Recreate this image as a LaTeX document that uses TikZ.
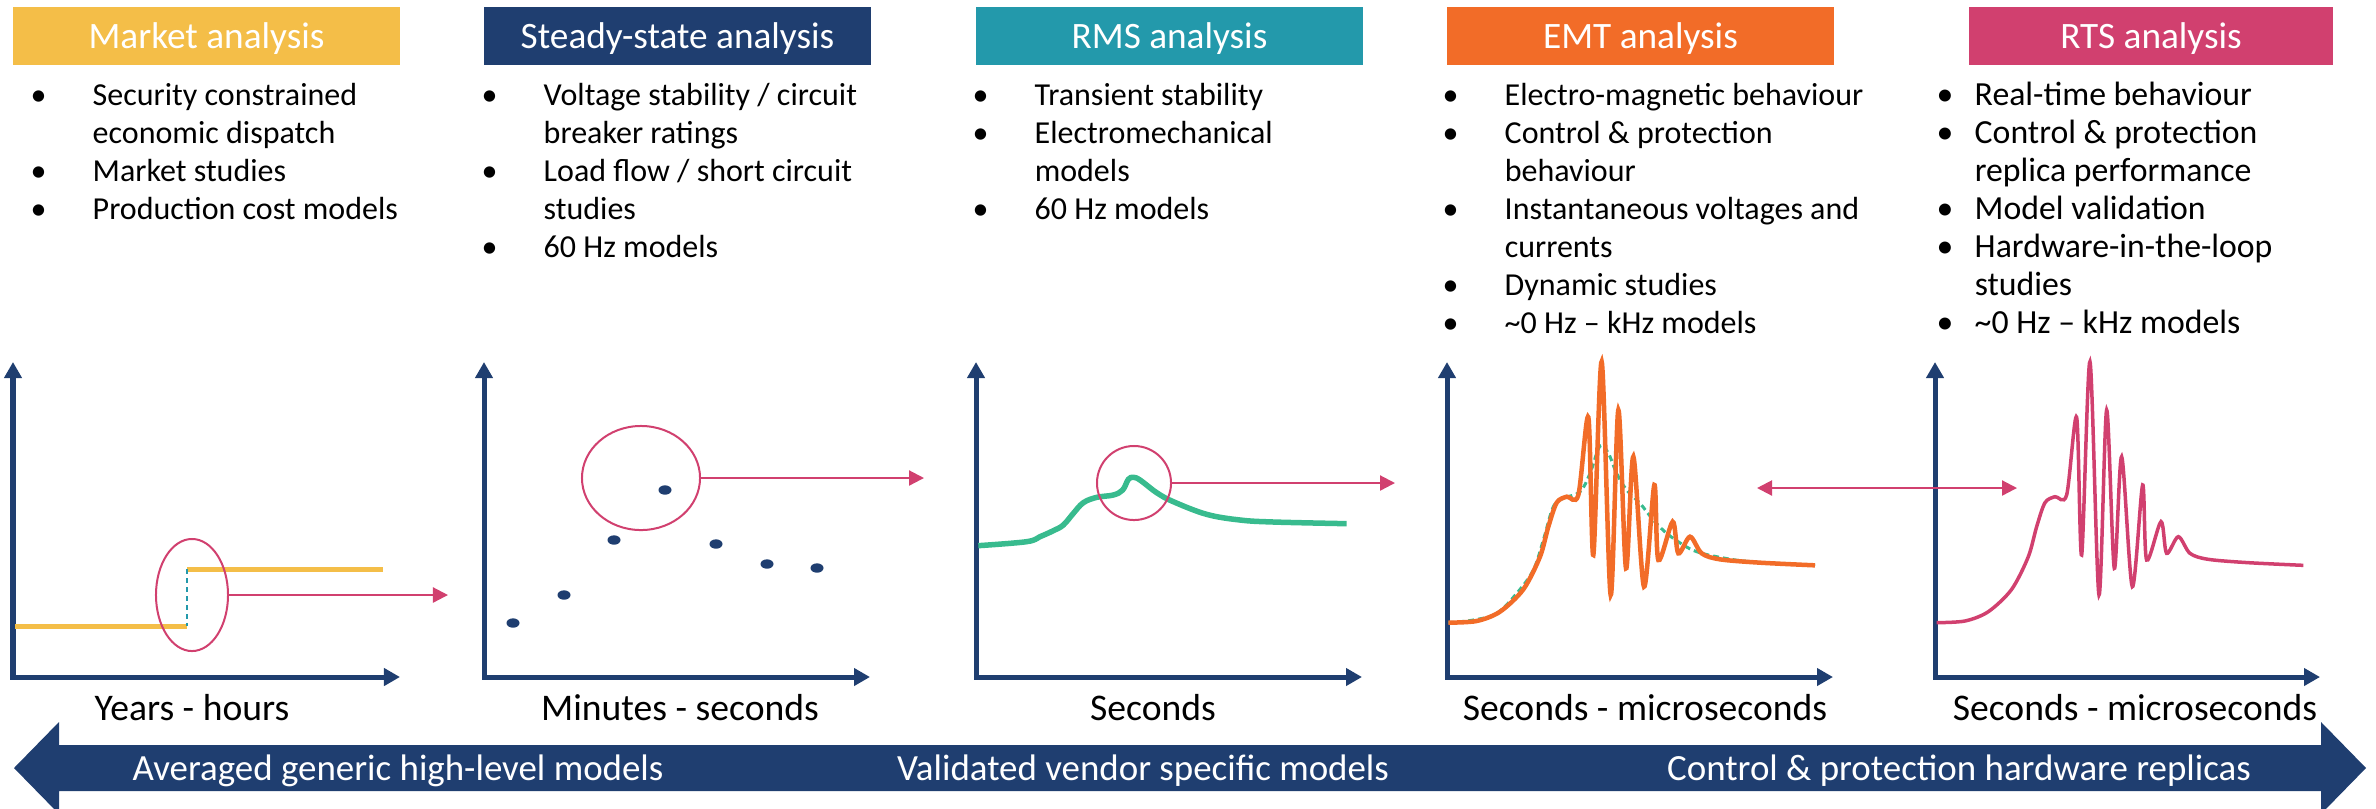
\documentclass[tikz,border=0pt]{standalone}
\usepackage{fontspec}
\setmainfont{Carlito}
\usetikzlibrary{arrows.meta,shapes.geometric}

\definecolor{mktyellow}{HTML}{F4BE48}
\definecolor{navy}{HTML}{1F3E70}
\definecolor{rmsteal}{HTML}{2399AB}
\definecolor{emtorange}{HTML}{F26C28}
\definecolor{rtspink}{HTML}{D1406F}
\definecolor{rmsgreen}{HTML}{38BB8E}

\tikzset{
  header/.style={fill=#1, text=white, minimum width=3.87cm, minimum height=0.58cm,
    inner sep=0pt, text height=0.25cm, text depth=0pt, font=\fontsize{10.6pt}{12pt}\selectfont},
  bullets/.style={anchor=north west, inner sep=0pt, font=\fontsize{9.1pt}{10.8pt}\selectfont},
  timelabel/.style={anchor=base, inner sep=0pt, font=\fontsize{10.7pt}{12pt}\selectfont},
  bandlabel/.style={anchor=base, inner sep=0pt, text=white, font=\fontsize{10.5pt}{12pt}\selectfont},
  axis/.style={draw=navy, line width=0.05cm, line join=miter,
    {Triangle[length=0.16cm,width=0.17cm]}-{Triangle[length=0.16cm,width=0.17cm]}},
  zoomring/.style={ellipse, draw=rtspink, line width=0.02cm, inner sep=0pt},
  zoomarrow/.style={draw=rtspink, line width=0.022cm, -{Triangle[length=0.15cm,width=0.15cm]}},
}
\newcommand{\blist}[2][0.62cm]{\begin{tabular}{@{}p{#1}@{}l@{}}#2\end{tabular}}

\begin{document}
\begin{tikzpicture}[x=0.01cm, y=-0.01cm]
\clip (0,0) rectangle (2376,808);
%\draw[help lines,step=100] (0,0) grid (2376,808);
\def\emtwave#1{\draw[#1] plot[smooth, tension=0.5] coordinates {(145,848) (230,843) (300,815)
  (370,748) (420,650) (445,560) (470,488) (500,470) (535,465) (565,232) (580,645) (605,65)
  (632,765) (655,210) (678,685) (700,350) (732,740) (763,435) (775,660) (818,545) (835,640)
  (870,590) (905,640) (960,658) (1080,668) (1245,676)};}

% headers
\node[header=mktyellow] (mkt) at (206.5,36) {Market analysis};
\node[header=navy] (ss) at (677.5,36) {Steady-state analysis};
\node[header=rmsteal] (rms) at (1169.5,36) {RMS analysis};
\node[header=emtorange] (emt) at (1640.5,36) {EMT analysis};
\node[header=rtspink, minimum width=3.64cm] (rts) at (2151,36) {RTS analysis};

\node[bullets] (mktlist) at (30,78) {\blist{
  \textbullet & Security constrained\\ & economic dispatch\\
  \textbullet & Market studies\\
  \textbullet & Production cost models}};
\node[bullets] (sslist) at (481,78) {\blist{
  \textbullet & Voltage stability / circuit\\ & breaker ratings\\
  \textbullet & Load flow / short circuit\\ & studies\\
  \textbullet & 60 Hz models}};
\node[bullets] (rmslist) at (972,78) {\blist{
  \textbullet & Transient stability\\
  \textbullet & Electromechanical\\ & models\\
  \textbullet & 60 Hz models}};
\node[bullets] (emtlist) at (1442,78) {\blist{
  \textbullet & Electro-magnetic behaviour\\
  \textbullet & Control \& protection\\ & behaviour\\
  \textbullet & Instantaneous voltages and\\ & currents\\
  \textbullet & Dynamic studies\\
  \textbullet & \textasciitilde0 Hz -- kHz models}};
\node[bullets, font=\fontsize{9.6pt}{10.8pt}\selectfont] (rtslist) at (1936,78) {\blist[0.38cm]{
  \textbullet & Real-time behaviour\\
  \textbullet & Control \& protection\\ & replica performance\\
  \textbullet & Model validation\\
  \textbullet & Hardware-in-the-loop\\ & studies\\
  \textbullet & \textasciitilde0 Hz -- kHz models}};

% axes
\foreach \xa/\xb in {13/400,484/870,976/1362,1447/1833,1935/2320}
  \draw[axis] (\xa,362) -- (\xa,677) -- (\xb,677);

% market: step
\draw[line width=0.05cm, mktyellow] (15,626) -- (187,626);
\draw[line width=0.05cm, mktyellow] (187,569) -- (383,569);
\draw[line width=0.02cm, rmsteal, dash pattern=on 0.05cm off 0.04cm] (187,569) -- (187,626);
\node[zoomring, minimum width=0.72cm, minimum height=1.12cm] (mktring) at (192,595) {};
\coordinate (mktend) at (448,595);
\draw[zoomarrow] (mktring.east) -- (mktend);

% steady-state: points
\foreach \x/\y in {513/623,564/595,614/540,665/490,716/544,767/564,817/568}
  \fill[navy] (\x,\y) ellipse [x radius=0.065cm, y radius=0.047cm];
\node[zoomring, minimum width=1.18cm, minimum height=1.04cm] (ssring) at (641,478) {};
\coordinate (ssend) at (924,478);
\draw[zoomarrow] (ssring.east) -- (ssend);

% rms
\begin{scope}[shift={(940,340)}, scale=1/3]
\draw[rmsgreen, line width=0.055cm] plot[smooth, tension=0.6] coordinates {(115,617) (260,605)
  (300,590) (340,572) (370,555) (400,520) (430,488) (470,472) (520,465) (548,450) (565,418)
  (580,412) (600,420) (650,458) (700,485) (800,523) (900,540) (1000,546) (1220,551)};
\end{scope}
\node[zoomring, minimum width=0.74cm, minimum height=0.74cm] (rmsring) at (1134,483) {};
\coordinate (rmsend) at (1395,483);
\draw[zoomarrow] (rmsring.east) -- (rmsend);

% emt
\begin{scope}[shift={(1400,340)}, scale=1/3]
\draw[rmsgreen, line width=0.03cm, dash pattern=on 0.06cm off 0.04cm] plot[smooth, tension=0.6]
  coordinates {(145,848) (220,840) (290,820) (350,760) (400,690) (430,600) (460,500) (490,475)
  (540,455) (570,400) (600,318) (625,340) (650,400) (680,450) (720,490) (760,540) (800,580)
  (850,615) (890,635) (950,650) (1050,665) (1245,676)};
\emtwave{emtorange, line width=0.045cm}
\end{scope}
\coordinate (emtlink) at (1757,488);
\coordinate (rtslink) at (2017,488);
\draw[zoomarrow, {Triangle[length=0.15cm,width=0.15cm]}-{Triangle[length=0.15cm,width=0.15cm]}] (emtlink) -- (rtslink);

% rts
\begin{scope}[shift={(1888.3,340)}, scale=1/3]
\emtwave{rtspink, line width=0.035cm}
\end{scope}

% time scales
\node[timelabel] (t1) at (192,720) {Years - hours};
\node[timelabel] (t2) at (680,720) {Minutes - seconds};
\node[timelabel] (t3) at (1153,720) {Seconds};
\node[timelabel] (t4) at (1645,720) {Seconds - microseconds};
\node[timelabel] (t5) at (2135,720) {Seconds - microseconds};

% model band
\fill[navy] (14,768) -- (59,722) -- (59,745) -- (2321,745) -- (2321,722) -- (2366,768)
  -- (2321,814) -- (2321,791) -- (59,791) -- (59,814) -- cycle;
\node[bandlabel] (b1) at (398,780) {Averaged generic high-level models};
\node[bandlabel] (b2) at (1143,780) {Validated vendor specific models};
\node[bandlabel] (b3) at (1959,780) {Control \& protection hardware replicas};
\end{tikzpicture}
\end{document}
